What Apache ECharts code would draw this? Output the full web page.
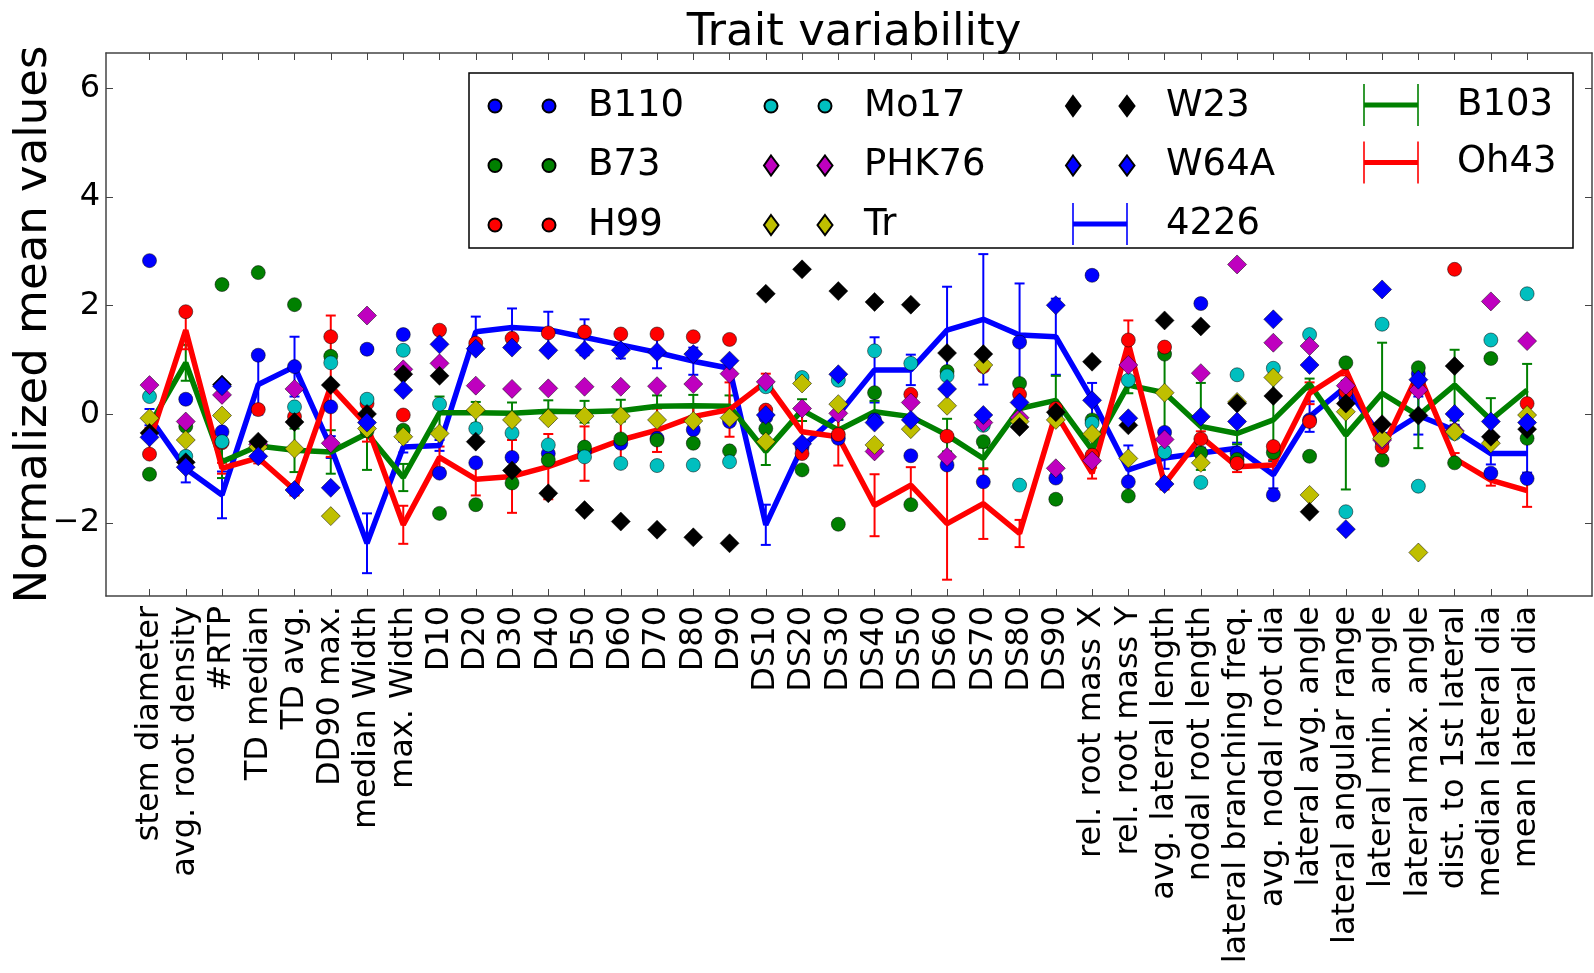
<!DOCTYPE html>
<html>
<head>
<meta charset="utf-8">
<script src="https://cdn.jsdelivr.net/npm/echarts@6/dist/echarts.min.js"></script>
<style>
  html, body { margin: 0; padding: 0; background: #fff; }
  #chart { width: 1594px; height: 973px; }
</style>
</head>
<body>
<div id="chart"></div>
<script>
// Trait names along the x axis
const categories = [
  'stem diameter', 'avg. root density', '#RTP', 'TD median', 'TD avg.', 'DD90 max.',
  'median Width', 'max. Width', 'D10', 'D20', 'D30', 'D40', 'D50', 'D60', 'D70', 'D80', 'D90',
  'DS10', 'DS20', 'DS30', 'DS40', 'DS50', 'DS60', 'DS70', 'DS80', 'DS90',
  'rel. root mass X', 'rel. root mass Y', 'avg. lateral length', 'nodal root length',
  'lateral branching freq.', 'avg. nodal root dia', 'lateral avg. angle', 'lateral angular range',
  'lateral min. angle', 'lateral max. angle', 'dist. to 1st lateral', 'median lateral dia',
  'mean lateral dia'
];

const yTicks = [-2, 0, 2, 4, 6];

// Normalized mean values per genotype (one value per trait)
const B110 = [2.83, 0.28, -0.32, 1.09, 0.88, 0.14, 1.20, 1.47, -1.08, -0.89, -0.79, -0.72, -0.68, -0.53, -0.44, -0.28, -0.13,
  -0.05, -0.60, -0.44, -0.10, -0.76, -0.93, -1.24, 1.33, -1.17, 2.56, -1.24, -0.33, 2.04, -0.71, -1.48, -0.10, 0.30,
  -0.50, 0.75, -0.30, -1.08, -1.18];
const B73 = [-1.10, -0.22, 2.39, 2.61, 2.02, 1.07, -0.30, -0.29, -1.82, -1.66, -1.26, -0.84, -0.60, -0.45, -0.47, -0.53, -0.67,
  -0.26, -1.02, -2.02, 0.40, -1.66, 0.79, -0.50, 0.57, -1.56, -0.10, -1.50, 1.11, -0.71, -0.83, -0.70, -0.77, 0.95,
  -0.84, 0.86, -0.89, 1.03, -0.44];
const H99 = [-0.73, 1.89, -0.52, 0.09, -0.04, 1.43, 0.20, -0.01, 1.55, 1.31, 1.40, 1.50, 1.52, 1.48, 1.48, 1.43, 1.38,
  0.08, -0.72, -0.37, -0.65, 0.37, -0.40, 0.88, 0.37, 0.11, -0.75, 1.37, 1.24, -0.45, -0.90, -0.59, -0.13, 0.42,
  -0.60, 0.60, 2.67, -0.50, 0.20];
const Mo17 = [0.33, -0.77, -0.50, -0.55, 0.14, 0.95, 0.28, 1.18, 0.19, -0.26, -0.34, -0.56, -0.78, -0.90, -0.94, -0.93, -0.87,
  0.51, 0.68, 0.63, 1.17, 0.94, 0.71, -0.20, -1.30, 0.00, -0.16, 0.63, -0.69, -1.25, 0.73, 0.85, 1.47, -1.79,
  1.66, -1.32, -0.35, 1.37, 2.22];
const PHK76 = [0.54, -0.13, 0.36, -0.55, 0.47, -0.53, 1.82, 0.83, 0.94, 0.53, 0.47, 0.48, 0.51, 0.51, 0.52, 0.56, 0.75,
  0.60, 0.11, 0.02, -0.68, 0.22, -0.78, -0.15, -0.06, -0.99, -0.85, 0.91, -0.46, 0.76, 2.76, 1.32, 1.26, 0.53,
  -0.47, 0.45, -0.30, 2.08, 1.35];
const Tr = [-0.07, -0.47, -0.02, -0.60, -0.63, -1.87, -0.26, -0.41, -0.35, 0.08, -0.10, -0.07, -0.03, -0.03, -0.10, -0.12, -0.06,
  -0.50, 0.57, 0.19, -0.56, -0.27, 0.16, 0.91, -0.13, -0.10, -0.36, -0.81, 0.40, -0.89, 0.23, 0.68, -1.48, 0.05,
  -0.44, -2.54, -0.32, -0.53, -0.01];
const W23 = [-0.34, -0.88, 0.55, -0.50, -0.14, 0.54, 0.01, 0.74, 0.71, -0.50, -1.03, -1.45, -1.76, -1.97, -2.12, -2.26, -2.37,
  2.22, 2.67, 2.27, 2.07, 2.02, 1.13, 1.11, -0.23, 0.04, 0.97, -0.20, 1.73, 1.62, 0.20, 0.34, -1.79, 0.20,
  -0.18, -0.02, 0.89, -0.41, -0.27];
const W64A = [-0.42, -0.97, 0.52, -0.77, -1.39, -1.35, -0.15, 0.45, 1.29, 1.21, 1.23, 1.18, 1.18, 1.18, 1.15, 1.11, 0.99,
  -0.01, -0.54, 0.74, -0.15, -0.10, 0.47, -0.01, 0.22, 2.01, 0.26, -0.07, -1.28, -0.04, -0.13, 1.75, 0.91, -2.11,
  2.30, 0.64, 0.01, -0.13, -0.15];

// Genotypes drawn as lines with error bars: means and error half-widths
const L4226 = [-0.05, -1.00, -1.48, 0.55, 0.88, -0.60, -2.37, -0.60, -0.57, 1.52, 1.60, 1.56, 1.42, 1.28, 1.14, 0.98, 0.85,
  -2.03, -0.60, 0.00, 0.82, 0.82, 1.55, 1.75, 1.46, 1.43, 0.28, -1.02, -0.80, -0.71, -0.62, -1.11, -0.04, 0.51,
  -0.44, -0.02, -0.29, -0.72, -0.72];
const E4226 = [0.15, 0.25, 0.43, 0.55, 0.55, 0.20, 0.55, 0.10, 0.10, 0.28, 0.35, 0.33, 0.33, 0.25, 0.29, 0.25, 0.15,
  0.37, 0.10, 0.10, 0.60, 0.28, 0.80, 1.20, 0.95, 0.70, 0.30, 0.45, 0.20, 0.10, 0.10, 0.25, 0.28, 0.10,
  0.10, 0.35, 0.10, 0.20, 0.35];
const B103 = [-0.20, 0.95, -0.87, -0.58, -0.66, -0.69, -0.35, -1.16, 0.03, 0.03, 0.02, 0.06, 0.05, 0.07, 0.15, 0.16, 0.15,
  -0.68, 0.08, -0.29, 0.05, -0.04, -0.38, -0.81, 0.11, 0.26, -0.65, 0.54, 0.40, -0.22, -0.35, -0.10, 0.56, -0.38,
  0.39, -0.02, 0.54, -0.10, 0.45];
const EB103 = [0.15, 0.33, 0.30, 0.10, 0.40, 0.40, 0.67, 0.25, 0.30, 0.20, 0.20, 0.20, 0.20, 0.20, 0.20, 0.20, 0.20,
  0.25, 0.20, 0.20, 0.20, 0.20, 0.30, 0.20, 0.20, 0.45, 0.20, 0.15, 0.72, 0.80, 0.20, 0.75, 0.10, 1.00,
  0.93, 0.60, 0.65, 0.40, 0.48];
const Oh43 = [-0.50, 1.55, -0.99, -0.80, -1.39, 0.52, -0.20, -2.03, -0.79, -1.19, -1.14, -0.96, -0.72, -0.47, -0.29, -0.04, 0.09,
  0.60, -0.32, -0.41, -1.67, -1.30, -2.01, -1.64, -2.19, 0.02, -1.08, 1.31, -1.28, -0.41, -0.96, -0.93, 0.39, 0.82,
  -0.65, 0.76, -0.81, -1.21, -1.40];
const EOh43 = [0.25, 0.35, 0.10, 0.10, 0.10, 1.30, 0.30, 0.35, 0.20, 0.30, 0.67, 0.60, 0.50, 0.50, 0.40, 0.20, 0.50,
  0.15, 0.45, 0.53, 0.57, 0.33, 1.03, 0.65, 0.25, 0.10, 0.10, 0.42, 0.10, 0.10, 0.10, 0.10, 0.20, 0.10,
  0.10, 0.10, 0.10, 0.10, 0.30];

const FONT = "'DejaVu Sans', sans-serif";
const AXIS_COLOR = '#444';
const tickIdx = categories.map((_, i) => i);

const COLORS = {
  blue: '#0000ff', green: '#008000', red: '#ff0000',
  cyan: '#00bfbf', magenta: '#bf00bf', olive: '#bfbf00', black: '#000000'
};

// Legend handles: two markers side by side, or a bar with end caps
const BOX = 'M0,0M95,42';
const ICON_CIRCLES = 'path://' + BOX +
  'M0.5,21a6.5,6.5 0 1,0 13,0a6.5,6.5 0 1,0 -13,0Z' +
  'M54.5,21a6.5,6.5 0 1,0 13,0a6.5,6.5 0 1,0 -13,0Z';
const ICON_DIAMONDS = 'path://' + BOX +
  'M7,11L14.5,21L7,31L0,21Z' +
  'M61,11L68.5,21L61,31L53.5,21Z';
const ICON_ERRBAR = 'path://' + BOX +
  'M6.2,0h1.6v42h-1.6Z' + 'M60.2,0h1.6v42h-1.6Z' + 'M7,18.5h54v5h-54Z';

function toPoints(values) {
  return values.map((v, i) => [i, v]);
}
function toErrPoints(values, errs) {
  return values.map((v, i) => [i, v, errs[i]]);
}

function scatter(name, values, symbol, color) {
  return {
    name, type: 'scatter', z: 3,
    symbol, symbolSize: symbol === 'circle' ? 14 : 19,
    itemStyle: { color, borderColor: '#000', borderWidth: 0.5, opacity: 1 },
    data: toPoints(values)
  };
}

function line(name, values, color) {
  return {
    name, type: 'line', z: 2, symbol: 'none',
    lineStyle: { color, width: 5.5 },
    itemStyle: { color },
    data: toPoints(values)
  };
}

function errorBars(name, values, errs, color) {
  return {
    name, type: 'custom', z: 2,
    itemStyle: { color },
    encode: { x: 0, y: 1 },
    data: toErrPoints(values, errs),
    renderItem: function (params, api) {
      const x = api.value(0), y = api.value(1), e = api.value(2);
      const top = api.coord([x, y + e]);
      const bot = api.coord([x, y - e]);
      const half = 5;
      const style = { stroke: color, lineWidth: 2, fill: null };
      return {
        type: 'group',
        children: [
          { type: 'line', shape: { x1: top[0], y1: top[1], x2: bot[0], y2: bot[1] }, style },
          { type: 'line', shape: { x1: top[0] - half, y1: top[1], x2: top[0] + half, y2: top[1] }, style },
          { type: 'line', shape: { x1: bot[0] - half, y1: bot[1], x2: bot[0] + half, y2: bot[1] }, style }
        ]
      };
    }
  };
}

function legendColumn(left, items) {
  return {
    orient: 'vertical', left, top: 84,
    itemWidth: 95, itemHeight: 42, itemGap: 15.5, padding: 0,
    selectedMode: false,
    textStyle: { fontSize: 37, fontFamily: FONT, color: '#000' },
    data: items
  };
}
const errLegendItem = (name, color) => ({ name, icon: ICON_ERRBAR, itemStyle: { color, borderWidth: 0 } });

const xRange = { min: -1.2, max: 39.79 };
const yRange = { min: -3.34, max: 6.65 };

const option = {
  animation: false,
  backgroundColor: '#fff',
  title: {
    text: 'Trait variability', left: 849, top: 6, textAlign: 'center',
    textStyle: { fontSize: 45, fontWeight: 'normal', fontFamily: FONT, color: '#000' }
  },
  grid: { left: 106, right: 2, top: 53, bottom: 377, containLabel: false, outerBoundsMode: 'none' },
  graphic: [{
    type: 'rect', z: 3,
    shape: { x: 469, y: 73, width: 1104, height: 175 },
    style: { fill: '#fff', stroke: '#000', lineWidth: 1.5 }
  }],
  legend: [
    legendColumn(487, [
      { name: 'B110', icon: ICON_CIRCLES }, { name: 'B73', icon: ICON_CIRCLES }, { name: 'H99', icon: ICON_CIRCLES }
    ]),
    legendColumn(763, [
      { name: 'Mo17', icon: ICON_CIRCLES }, { name: 'PHK76', icon: ICON_DIAMONDS }, { name: 'Tr', icon: ICON_DIAMONDS }
    ]),
    legendColumn(1065, [
      { name: 'W23', icon: ICON_DIAMONDS }, { name: 'W64A', icon: ICON_DIAMONDS }, errLegendItem('4226', COLORS.blue)
    ]),
    legendColumn(1357, [
      errLegendItem('B103', COLORS.green), errLegendItem('Oh43', COLORS.red)
    ])
  ],
  xAxis: [{
    type: 'value', position: 'bottom', ...xRange,
    axisLine: { show: true, onZero: false, lineStyle: { color: AXIS_COLOR, width: 1.5 } },
    axisTick: { show: true, inside: true, length: 7, customValues: tickIdx, lineStyle: { color: AXIS_COLOR } },
    axisLabel: {
      customValues: tickIdx, rotate: 90, margin: 10,
      formatter: v => categories[Math.round(v)],
      fontSize: 32, fontFamily: FONT, color: '#000'
    },
    splitLine: { show: false }
  }, {
    type: 'value', position: 'top', ...xRange,
    axisLine: { show: true, onZero: false, lineStyle: { color: AXIS_COLOR, width: 1.5 } },
    axisTick: { show: true, inside: true, length: 7, customValues: tickIdx, lineStyle: { color: AXIS_COLOR } },
    axisLabel: { show: false },
    splitLine: { show: false }
  }],
  yAxis: [{
    type: 'value', position: 'left', ...yRange,
    name: 'Normalized mean values', nameLocation: 'middle', nameGap: 49, nameMoveOverlap: false,
    nameTextStyle: { fontSize: 45, fontFamily: FONT, color: '#000' },
    axisLine: { show: true, onZero: false, lineStyle: { color: AXIS_COLOR, width: 1.5 } },
    axisTick: { show: true, inside: true, length: 7, customValues: yTicks, lineStyle: { color: AXIS_COLOR } },
    axisLabel: {
      customValues: yTicks, margin: 6,
      formatter: v => (v < 0 ? '\u2212' + Math.abs(v) : String(v)),
      fontSize: 32, fontFamily: FONT, color: '#000'
    },
    splitLine: { show: false }
  }, {
    type: 'value', position: 'right', ...yRange,
    axisLine: { show: true, onZero: false, lineStyle: { color: AXIS_COLOR, width: 1.5 } },
    axisTick: { show: true, inside: true, length: 7, customValues: yTicks, lineStyle: { color: AXIS_COLOR } },
    axisLabel: { show: false },
    splitLine: { show: false }
  }],
  series: [
    line('4226', L4226, COLORS.blue),
    errorBars('4226', L4226, E4226, COLORS.blue),
    line('B103', B103, COLORS.green),
    errorBars('B103', B103, EB103, COLORS.green),
    line('Oh43', Oh43, COLORS.red),
    errorBars('Oh43', Oh43, EOh43, COLORS.red),
    scatter('B110', B110, 'circle', COLORS.blue),
    scatter('B73', B73, 'circle', COLORS.green),
    scatter('H99', H99, 'circle', COLORS.red),
    scatter('Mo17', Mo17, 'circle', COLORS.cyan),
    scatter('PHK76', PHK76, 'diamond', COLORS.magenta),
    scatter('Tr', Tr, 'diamond', COLORS.olive),
    scatter('W23', W23, 'diamond', COLORS.black),
    scatter('W64A', W64A, 'diamond', COLORS.blue)
  ]
};

const chart = echarts.init(document.getElementById('chart'), null, { renderer: 'canvas' });
chart.setOption(option);
</script>
</body>
</html>
